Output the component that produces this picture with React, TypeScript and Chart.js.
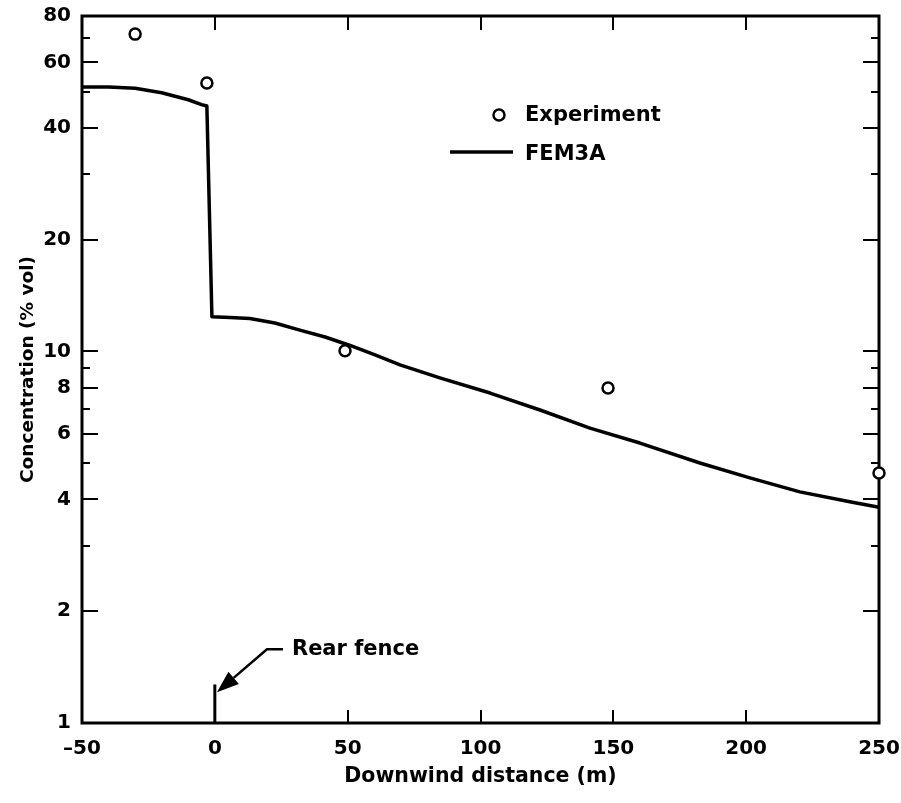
import React, { useEffect, useRef } from "react";
import { Chart, registerables } from "chart.js";

Chart.register(...registerables);

// ---- Data ----
const femX = [-50, -40, -30, -20, -10, -5, -3, -1.1, 5.7, 13.2, 22.6, 32, 41.5, 50.9, 60.3, 69.7, 84.7, 103.6, 122.4, 141.2, 160, 182.6, 201.4, 220.2, 239, 250];
const femY = [51.5, 51.5, 51.1, 49.7, 47.6, 46.2, 45.8, 12.4, 12.35, 12.27, 11.93, 11.42, 10.94, 10.38, 9.79, 9.2, 8.49, 7.73, 6.96, 6.22, 5.67, 5.01, 4.57, 4.19, 3.94, 3.81];

const expX = [-30, -3, 49, 148, 250];
const expY = [71.5, 52.8, 10.05, 7.98, 4.71];

const fenceX = [0, 0];
const fenceY = [1, 1.27];
const fenceTip = { x: 0.8, y: 1.21 };

const xLabelTicks = [-50, 0, 50, 100, 150, 200, 250];
const xInnerTicks = [0, 50, 100, 150, 200];
const yLabelTicks = [1, 2, 4, 6, 8, 10, 20, 40, 60, 80];
const yMajorTicks = [2, 4, 6, 8, 10, 20, 40, 60];
const yMinorTicks = [3, 5, 7, 9, 30, 50, 70];

const FONT = "'DejaVu Sans', sans-serif";

const framePlugin = {
  id: "frame",
  beforeDatasetsDraw(chart: any) {
    const { ctx, chartArea: a, scales } = chart;
    const xs = scales.x, ys = scales.y;
    ctx.save();
    ctx.strokeStyle = "#000";
    ctx.lineCap = "butt";
    ctx.lineWidth = 2;
    ctx.beginPath();
    for (const v of yMajorTicks) {
      const py = Math.round(ys.getPixelForValue(v));
      ctx.moveTo(a.left, py); ctx.lineTo(a.left + 16, py);
      ctx.moveTo(a.right, py); ctx.lineTo(a.right - 16, py);
    }
    for (const v of yMinorTicks) {
      const py = Math.round(ys.getPixelForValue(v));
      ctx.moveTo(a.left, py); ctx.lineTo(a.left + 8, py);
      ctx.moveTo(a.right, py); ctx.lineTo(a.right - 8, py);
    }
    for (const v of xInnerTicks) {
      const px = Math.round(xs.getPixelForValue(v));
      ctx.moveTo(px, a.bottom); ctx.lineTo(px, a.bottom - 13);
      ctx.moveTo(px, a.top); ctx.lineTo(px, a.top + 14);
    }
    ctx.stroke();
    ctx.lineWidth = 3;
    ctx.strokeRect(a.left, a.top, a.right - a.left, a.bottom - a.top);
    ctx.restore();
  },
  afterDatasetsDraw(chart: any) {
    const { ctx, scales } = chart;
    const xs = scales.x, ys = scales.y;
    ctx.save();
    ctx.fillStyle = "#000";
    ctx.strokeStyle = "#000";
    ctx.font = `bold 21px ${FONT}`;
    ctx.textBaseline = "middle";
    ctx.textAlign = "left";
    // legend
    ctx.beginPath();
    ctx.lineWidth = 2.5;
    ctx.arc(499, 115, 5.5, 0, Math.PI * 2);
    ctx.fillStyle = "#fff";
    ctx.fill();
    ctx.stroke();
    ctx.fillStyle = "#000";
    ctx.fillText("Experiment", 525, 116);
    ctx.beginPath();
    ctx.lineWidth = 3.5;
    ctx.moveTo(450, 152);
    ctx.lineTo(513, 152);
    ctx.stroke();
    ctx.fillText("FEM3A", 525, 155);

    // Rear fence annotation
    const tx = xs.getPixelForValue(fenceTip.x);
    const ty = ys.getPixelForValue(fenceTip.y);
    const ex = tx + 50, ey = ty - 43;
    ctx.lineWidth = 2.5;
    ctx.beginPath();
    ctx.moveTo(ex + 16, ey);
    ctx.lineTo(ex, ey);
    const ang = Math.atan2(ty - ey, tx - ex);
    const L = 22, W = 8;
    const bx = tx - L * Math.cos(ang), by = ty - L * Math.sin(ang);
    ctx.lineTo(bx, by);
    ctx.stroke();
    ctx.beginPath();
    ctx.moveTo(tx, ty);
    ctx.lineTo(bx + W * Math.sin(ang), by - W * Math.cos(ang));
    ctx.lineTo(bx - W * Math.sin(ang), by + W * Math.cos(ang));
    ctx.closePath();
    ctx.fill();
    ctx.fillText("Rear fence", ex + 25, ey);
    ctx.restore();
  },
};

export default function App() {
  const ref = useRef<HTMLCanvasElement | null>(null);
  useEffect(() => {
    if (!ref.current) return;
    const chart = new Chart(ref.current, {
      type: "line",
      data: {
        datasets: [
          {
            label: "FEM3A",
            data: femX.map((x, i) => ({ x, y: femY[i] })),
            borderColor: "#000",
            borderWidth: 3.5,
            pointRadius: 0,
            tension: 0,
            borderJoinStyle: "round",
            fill: false,
            clip: false as any,
          },
          {
            label: "Rear fence",
            data: fenceX.map((x, i) => ({ x, y: fenceY[i] })),
            borderColor: "#000",
            borderWidth: 3,
            pointRadius: 0,
            fill: false,
          },
          {
            label: "Experiment",
            data: expX.map((x, i) => ({ x, y: expY[i] })),
            showLine: false,
            borderColor: "#000",
            backgroundColor: "#fff",
            pointRadius: 5.5,
            pointBorderWidth: 2.5,
            pointBackgroundColor: "#fff",
            pointBorderColor: "#000",
            clip: false as any,
          },
        ],
      },
      options: {
        animation: false,
        responsive: true,
        maintainAspectRatio: false,
        devicePixelRatio: 1,
        layout: { padding: { top: 16, right: 22, left: 0, bottom: 0 } },
        plugins: { legend: { display: false }, tooltip: { enabled: false } },
        events: [],
        scales: {
          x: {
            type: "linear",
            min: -50,
            max: 250,
            afterBuildTicks: (s: any) => { s.ticks = xLabelTicks.map((v) => ({ value: v })); },
            afterFit: (s: any) => { s.height = 80; s.paddingLeft = 0; s.paddingRight = 0; },
            grid: { display: false, drawTicks: false },
            border: { display: false },
            ticks: {
              autoSkip: false,
              maxRotation: 0,
              color: "#000",
              padding: 14,
              font: { family: FONT, size: 20, weight: "bold" },
              callback: (v: any) => (v < 0 ? "\u2013" + Math.abs(v) : String(v)),
            },
            title: {
              display: true,
              text: "Downwind distance (m)",
              color: "#000",
              font: { family: FONT, size: 20.5, weight: "bold" },
              padding: { top: 0, bottom: 14 },
            },
          },
          y: {
            type: "logarithmic",
            min: 1,
            max: 80,
            afterBuildTicks: (s: any) => { s.ticks = yLabelTicks.map((v) => ({ value: v })); },
            afterFit: (s: any) => { s.width = 82; s.paddingTop = 0; s.paddingBottom = 0; },
            grid: { display: false, drawTicks: false },
            border: { display: false },
            ticks: {
              autoSkip: false,
              color: "#000",
              padding: 11,
              font: { family: FONT, size: 20, weight: "bold" },
              callback: (v: any) => String(v),
            },
            title: {
              display: true,
              text: "Concentration (% vol)",
              color: "#000",
              font: { family: FONT, size: 18.5, weight: "bold" },
              padding: { top: 17, bottom: 0 },
            },
          },
        },
      },
      plugins: [framePlugin],
    });
    return () => chart.destroy();
  }, []);
  return (
    <div style={{ position: "fixed", left: 0, top: 0, width: 901, height: 803, background: "#fff" }}>
      <canvas ref={ref} />
    </div>
  );
}
